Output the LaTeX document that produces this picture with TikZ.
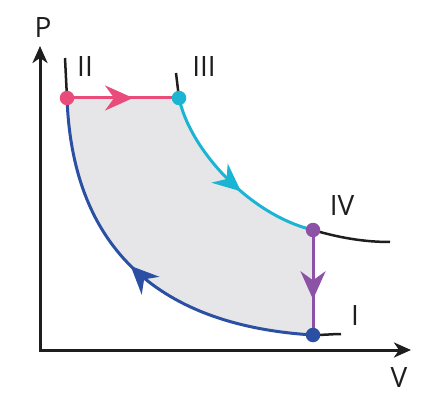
\documentclass[tikz,border=0pt]{standalone}
\usepackage{fontspec}
\setmainfont{Open Sans}
\usetikzlibrary{arrows.meta,decorations.markings}
\definecolor{cpink}{RGB}{233,75,122}
\definecolor{ccyan}{RGB}{27,181,211}
\definecolor{cpurple}{RGB}{140,82,165}
\definecolor{cblue}{RGB}{43,80,163}
\definecolor{cgray}{RGB}{230,230,233}
\definecolor{cblack}{RGB}{30,30,30}
\begin{document}
\begin{tikzpicture}[x=1pt,y=-1pt,
  axis/.style={line width=3pt,cblack},
  tail/.style={line width=2.5pt,cblack},
  proc/.style={line width=3pt},
  midarrow/.style={decoration={markings,
    mark=at position #1 with {\arrow{Stealth[length=28pt,width=25pt,inset=9pt]}}},
    postaction={decorate}},
  dot/.style={circle,inner sep=0pt,minimum size=14.5pt},
  lbl/.style={font=\fontsize{28}{30}\selectfont,text=cblack,inner sep=0pt}]
\useasboundingbox (0,0) rectangle (433,403);
\coordinate (II) at (67,98);
\coordinate (III) at (179,98);
\coordinate (IV) at (313,230);
\coordinate (I) at (313,335);
\coordinate (O) at (40,350);
\coordinate (Ptip) at (40,46);
\coordinate (Vtip) at (411,350);
\coordinate (IItop) at (65,58);
\coordinate (IIItop) at (176,73);
\coordinate (IVend) at (390,242);
\coordinate (Iend) at (341,334);
% shaded cycle
\fill[cgray] (II) -- (III) .. controls (190,150) and (250,215) .. (IV) -- (I)
  .. controls (150,325) and (72,240) .. (II) -- cycle;
% axes
\draw[axis,{Stealth[length=17pt,width=15pt,inset=5pt]}-{Stealth[length=17pt,width=15pt,inset=5pt]}]
  (Ptip) -- (O) -- (Vtip);
% black tails
\draw[tail] (IItop) -- (II);
\draw[tail] (IIItop) -- (III);
\draw[tail] (IV) .. controls (340,238) and (365,242) .. (IVend);
\draw[tail] (I) .. controls (325,335) and (333,334) .. (Iend);
% processes
\draw[proc,cpink,midarrow=0.59] (II) -- (III);
\draw[proc,ccyan,midarrow=0.58] (III) .. controls (190,150) and (250,215) .. (IV);
\draw[proc,cpurple,midarrow=0.66] (IV) -- (I);
\draw[proc,cblue,midarrow=0.52] (I) .. controls (150,325) and (72,240) .. (II);
% dots
\node[dot,fill=cpink] (dII) at (II) {};
\node[dot,fill=ccyan] (dIII) at (III) {};
\node[dot,fill=cpurple] (dIV) at (IV) {};
\node[dot,fill=cblue] (dI) at (I) {};
% labels
\node[lbl] (lP) at (43,28) {P};
\node[lbl] (lV) at (399,378) {V};
\node[lbl] (lII) at (85,67) {II};
\node[lbl] (lIII) at (204,67) {III};
\node[lbl] (lIV) at (342,206) {IV};
\node[lbl] (lI) at (355,316) {I};
\end{tikzpicture}
\end{document}
